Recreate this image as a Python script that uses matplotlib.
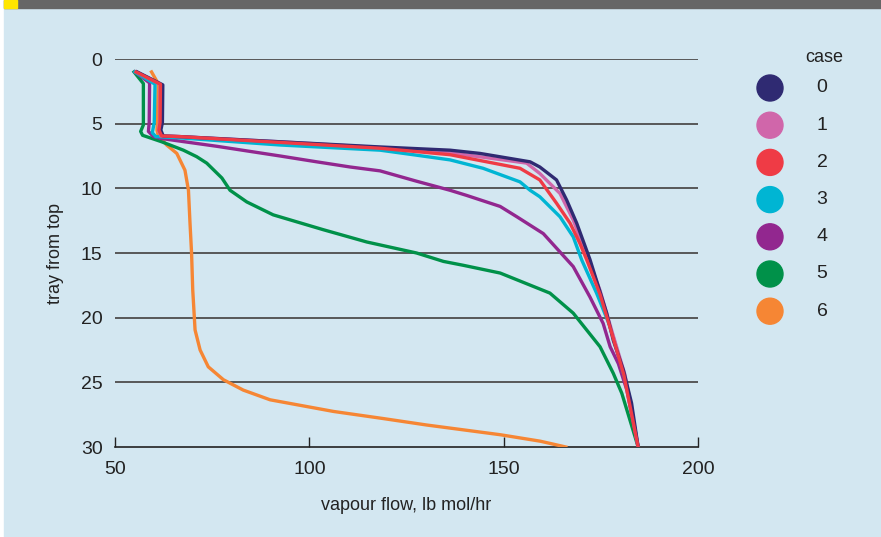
import matplotlib.pyplot as plt
from matplotlib.patches import Rectangle, Circle

# vapour flow profiles (flow in lb mol/hr, tray from top)
tray_case0 = [1.0, 2.0, 4.9, 5.5, 5.95, 6.0, 6.4, 6.8, 7.05, 7.3, 7.95, 8.35, 9.35, 10.9, 12.7, 15.5, 19.65, 21.75, 24.05, 26.6, 30.0]
flow_case0 = [55.7, 62.3, 62.2, 61.8, 62.4, 66.7, 92.5, 118.2, 136.2, 143.9, 156.8, 159.3, 163.6, 166.2, 168.8, 172.2, 176.5, 178.2, 180.8, 182.9, 184.6]

tray_case1 = [1.0, 1.95, 4.9, 5.5, 5.95, 6.0, 6.4, 6.85, 7.25, 8.05, 8.85, 10.4, 12.45, 14.5, 17.9, 21.3, 24.4, 30.0]
flow_case1 = [55.6, 61.6, 61.5, 61.2, 61.8, 66.7, 92.5, 118.2, 136.2, 155.9, 159.3, 164.5, 167.9, 170.5, 174.8, 178.1, 181.2, 184.6]

tray_case2 = [1.0, 1.95, 4.9, 5.5, 5.95, 6.0, 6.45, 6.9, 7.4, 8.45, 9.35, 11.15, 12.7, 14.25, 15.55, 18.2, 21.3, 24.4, 30.0]
flow_case2 = [55.4, 61.7, 61.6, 61.3, 62.0, 66.7, 92.5, 118.2, 136.2, 154.2, 159.3, 163.6, 167.1, 169.6, 171.4, 174.8, 177.9, 180.9, 184.6]

tray_case3 = [1.0, 1.95, 4.9, 5.7, 6.0, 6.1, 6.65, 7.05, 7.4, 7.8, 8.45, 9.5, 10.15, 10.65, 12.2, 13.75, 15.55, 18.1, 20.7, 23.25, 25.8, 30.0]
flow_case3 = [55.1, 60.3, 60.1, 59.6, 60.5, 66.7, 92.5, 118.2, 126.7, 136.2, 144.7, 154.2, 156.8, 159.3, 164.5, 167.9, 170.1, 173.9, 177.4, 179.9, 182.1, 184.6]

tray_case4 = [1.0, 1.85, 4.9, 5.6, 6.0, 6.15, 6.75, 7.5, 7.95, 8.35, 8.65, 9.45, 10.15, 10.55, 11.4, 12.2, 13.5, 16.05, 18.4, 20.45, 22.25, 23.55, 25.6, 30.0]
flow_case4 = [55.1, 58.9, 58.8, 58.6, 59.9, 62.0, 76.2, 92.5, 101.9, 110.5, 118.2, 127.6, 136.2, 140.5, 149.1, 153.4, 160.2, 167.9, 172.2, 175.6, 177.4, 179.5, 181.7, 184.6]

tray_case5 = [1.0, 1.9, 5.1, 5.6, 5.9, 6.4, 7.05, 7.55, 8.05, 9.2, 10.15, 11.05, 12.05, 13.2, 14.15, 15.0, 15.65, 15.95, 16.55, 18.1, 19.65, 22.25, 24.3, 25.85, 30.0]
flow_case5 = [54.9, 57.3, 57.3, 56.6, 57.1, 62.0, 67.6, 71.0, 73.6, 77.5, 79.6, 83.9, 90.7, 103.6, 114.8, 127.6, 134.5, 139.6, 149.1, 161.9, 167.9, 174.8, 178.2, 180.4, 184.6]

tray_case6 = [1.0, 1.9, 4.9, 5.5, 5.9, 6.65, 7.3, 8.6, 10.15, 12.7, 15.0, 17.85, 20.95, 22.5, 23.8, 24.8, 25.6, 26.35, 27.25, 27.8, 28.3, 29.05, 29.55, 30.0]
flow_case6 = [59.4, 61.1, 60.9, 60.8, 61.1, 63.3, 65.9, 68.0, 68.9, 69.3, 69.7, 70.0, 70.6, 71.9, 74.0, 77.9, 83.0, 89.9, 106.2, 119.0, 130.2, 149.1, 159.4, 166.0]

cases = ['0', '1', '2', '3', '4', '5', '6']
colors = ['#2f2a72', '#d066aa', '#ef3b45', '#00b5d3', '#92278f', '#009149', '#f68634']
trays = [tray_case0, tray_case1, tray_case2, tray_case3, tray_case4, tray_case5, tray_case6]
flows = [flow_case0, flow_case1, flow_case2, flow_case3, flow_case4, flow_case5, flow_case6]

x_ticks = [50, 100, 150, 200]
y_ticks = [0, 5, 10, 15, 20, 25, 30]

bg = '#d3e7f1'
plt.rcParams['font.family'] = ['Liberation Sans', 'DejaVu Sans']

W, H = 881, 537
fig = plt.figure(figsize=(W / 100, H / 100), dpi=100)
fig.patch.set_facecolor('white')

# panel background, top bar and yellow tab
fig.add_artist(Rectangle((4 / W, 0), 1, 1, transform=fig.transFigure, color=bg, zorder=0))
fig.add_artist(Rectangle((4 / W, 1 - 8 / H), 1, 8 / H, transform=fig.transFigure, color='#666666', zorder=1))
fig.add_artist(Rectangle((4 / W, 1 - 8 / H), 13 / W, 8 / H, transform=fig.transFigure, color='#ffe600', zorder=2))

ax = fig.add_axes([115 / W, 1 - 447 / H, (698 - 115) / W, (447 - 59) / H])
ax.set_facecolor('none')

for y in y_ticks[:-1]:
    ax.axhline(y, color='#4d4d4d', lw=1.3, zorder=1)

order = [6, 5, 4, 3, 1, 0, 2]
for i in order:
    ax.plot(flows[i], trays[i], color=colors[i], lw=2.4, solid_joinstyle='round', zorder=3)

ax.set_xlim(50, 200)
ax.set_ylim(30, 0)
ax.set_xticks(x_ticks)
ax.set_yticks(y_ticks)
for s in ['top', 'right', 'left']:
    ax.spines[s].set_visible(False)
ax.spines['bottom'].set_color('#222222')
ax.spines['bottom'].set_linewidth(1.2)
ax.tick_params(axis='x', direction='in', length=7, width=1, color='#222222', pad=10, labelsize=14, labelcolor='#222222')
ax.tick_params(axis='y', length=0, pad=9, labelsize=14, labelcolor='#222222')

ax.set_xlabel('vapour flow, lb mol/hr', fontsize=13, color='#222222', labelpad=14)
ax.set_ylabel('tray from top', fontsize=13, color='#222222', labelpad=12)

# legend drawn by hand: coloured dots with case numbers
fig.text(824 / W, 1 - 58 / H, 'case', fontsize=13, color='#222222', ha='center', va='center')
for i, c in enumerate(cases):
    yc = 88 + 37.2 * i
    fig.add_artist(Circle((770 / 100, (H - yc) / 100), 13 / 100, transform=fig.dpi_scale_trans,
                          color=colors[i], zorder=3))
    fig.text(822 / W, 1 - yc / H, c, fontsize=14, color='#222222', ha='center', va='center')

fig.savefig('out.png', dpi=100, facecolor=fig.get_facecolor())
